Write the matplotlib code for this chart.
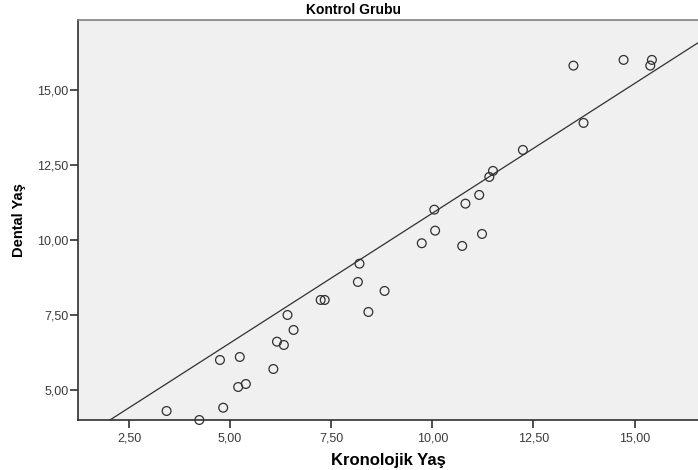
import numpy as np
import matplotlib.pyplot as plt

plt.rcParams['font.family'] = ['Liberation Sans', 'DejaVu Sans']

# Kronolojik yas (x) / Dental yas (y)
krono = [3.43, 4.24, 4.75, 4.83, 5.24, 5.20, 5.39, 6.07, 6.16, 6.33, 6.42, 6.57,
         7.24, 7.34, 8.20, 8.16, 8.82, 8.42, 9.74, 10.74, 13.49, 14.73, 15.43,
         15.39, 13.74, 12.24, 11.50, 11.41, 10.05, 10.82, 11.16, 10.07, 11.23]
dental = [4.30, 4.00, 6.00, 4.41, 6.10, 5.10, 5.20, 5.70, 6.61, 6.50, 7.50, 7.00,
          8.00, 8.00, 9.21, 8.60, 8.30, 7.60, 9.89, 9.80, 15.81, 16.00, 16.00,
          15.81, 13.90, 13.00, 12.30, 12.10, 11.01, 11.21, 11.50, 10.31, 10.20]
# fit line as drawn in the chart (two end points)
line_x = [2.03, 16.57]
line_y = [4.00, 16.57]
xticks = [2.5, 5.0, 7.5, 10.0, 12.5, 15.0]
yticks = [5.0, 7.5, 10.0, 12.5, 15.0]

fig = plt.figure(figsize=(6.98, 4.70), dpi=100)
ax = fig.add_axes([78/698, 50/470, 620/698, 400/470])
ax.set_facecolor('#f0f0f0')

ax.set_xlim(1.24, 16.57)
ax.set_ylim(4.0, 17.33)

ax.scatter(krono, dental, s=40, facecolors='none', edgecolors='#303030',
           linewidths=0.9, zorder=3, clip_on=False)
ax.plot(line_x, line_y, color='#303030', lw=0.9, zorder=2)

ax.set_xticks(xticks)
ax.set_yticks(yticks)
fmt = lambda v: ('%.2f' % v).replace('.', ',')
ax.set_xticklabels([fmt(v) for v in xticks])
ax.set_yticklabels([fmt(v) for v in yticks])
ax.tick_params(direction='out', length=6, width=1.2, color='#303030',
               labelsize=9, labelcolor='#3a3a3a')
ax.tick_params(axis='y', pad=1)
ax.tick_params(axis='x', pad=3)

ax.spines['right'].set_visible(False)
ax.spines['top'].set_color('#808080')
ax.spines['left'].set_color('#303030')
ax.spines['bottom'].set_color('#303030')
for s in ['left', 'bottom', 'top']:
    ax.spines[s].set_linewidth(1.2)

fig.text(0.506, 1 - 10/470, 'Kontrol Grubu', ha='center', va='center',
         fontsize=10, fontweight='bold')
ax.set_xlabel('Kronolojik Yaş', fontsize=12, fontweight='bold', labelpad=6)
ax.set_ylabel('Dental Yaş', fontsize=10.5, fontweight='bold', labelpad=8)

fig.savefig('out.png', dpi=100)
